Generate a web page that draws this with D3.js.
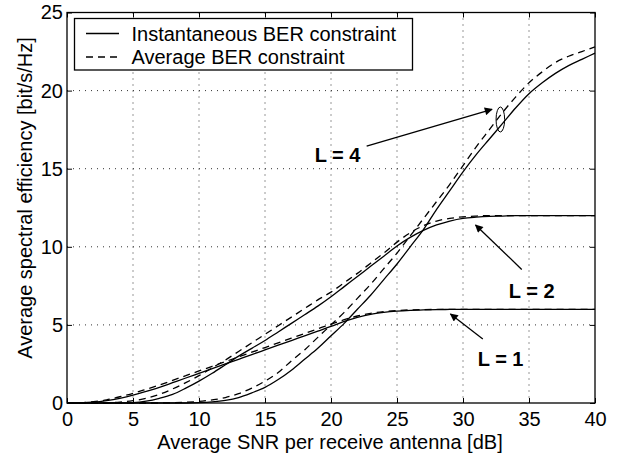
<!DOCTYPE html>
<html>
<head>
<meta charset="utf-8">
<script src="https://cdn.jsdelivr.net/npm/d3@7"></script>
<style>
  body { margin: 0; background: #fff; }
  svg { display: block; font-family: "Liberation Sans", Arial, sans-serif; }
</style>
</head>
<body>
<div id="chart"></div>
<script>
// values, SNR 0..40 dB in 1 dB steps
const snr = d3.range(0, 41);
const L1_inst = [0, 0.01, 0.05, 0.15, 0.3, 0.5, 0.75, 1.0, 1.3, 1.6, 1.9, 2.2, 2.5, 2.8, 3.1, 3.4, 3.7, 4.0, 4.3, 4.6, 4.9,
  5.22, 5.48, 5.68, 5.8, 5.88, 5.93, 5.96, 5.98, 5.99, 6, 6, 6, 6, 6, 6, 6, 6, 6, 6, 6];
const L1_avg = [0, 0.02, 0.08, 0.2, 0.4, 0.62, 0.88, 1.15, 1.45, 1.75, 2.05, 2.35, 2.65, 2.95, 3.25, 3.55, 3.85, 4.15, 4.45, 4.75, 5.05,
  5.33, 5.57, 5.74, 5.85, 5.92, 5.96, 5.98, 5.99, 6, 6, 6, 6, 6, 6, 6, 6, 6, 6, 6, 6];
const L2_inst = [0, 0, 0, 0, 0.01, 0.03, 0.12, 0.3, 0.55, 0.95, 1.4, 1.9, 2.45, 3.0, 3.5, 4.0, 4.55, 5.1, 5.65, 6.2, 6.8,
  7.45, 8.1, 8.75, 9.4, 10.05, 10.6, 11.05, 11.4, 11.65, 11.82, 11.9, 11.95, 11.97, 11.99, 12, 12, 12, 12, 12, 12];
const L2_avg = [0, 0, 0, 0.02, 0.06, 0.15, 0.3, 0.55, 0.9, 1.3, 1.75, 2.25, 2.75, 3.3, 3.85, 4.4, 4.95, 5.5, 6.05, 6.6, 7.1,
  7.7, 8.3, 8.95, 9.6, 10.3, 10.9, 11.35, 11.65, 11.82, 11.92, 11.97, 12, 12, 12, 12, 12, 12, 12, 12, 12];
const L4_inst = [0, 0, 0, 0, 0, 0, 0, 0, 0, 0, 0.02, 0.07, 0.17, 0.35, 0.65, 1.0, 1.5, 2.1, 2.8, 3.5, 4.3,
  5.1, 6.0, 6.9, 7.9, 8.9, 10.0, 11.1, 12.4, 13.6, 14.8, 15.9, 16.9, 17.9, 18.9, 19.8, 20.5, 21.1, 21.6, 22.0, 22.4];
const L4_avg = [0, 0, 0, 0, 0, 0, 0, 0, 0.02, 0.05, 0.1, 0.2, 0.35, 0.6, 0.95, 1.4, 1.95, 2.7, 3.4, 4.2, 5.0,
  5.8, 6.7, 7.6, 8.6, 9.6, 10.7, 11.8, 12.9, 14.0, 15.2, 16.4, 17.5, 18.6, 19.6, 20.5, 21.2, 21.8, 22.2, 22.5, 22.8];

const xTicks = [0, 5, 10, 15, 20, 25, 30, 35, 40];
const yTicks = [0, 5, 10, 15, 20, 25];
const legendLabels = ['Instantaneous BER constraint', 'Average BER constraint'];

// annotations in data units: label position, arrow tail, arrow head
const notes = [
  {text: 'L = 4', tx: 20.5, ty: 15.45, x1: 22.7, y1: 16.45, x2: 32.2, y2: 18.8},
  {text: 'L = 2', tx: 35.2, ty: 6.75, x1: 34.45, y1: 8.55, x2: 30.95, y2: 11.4},
  {text: 'L = 1', tx: 32.85, ty: 2.4, x1: 31.5, y1: 4.1, x2: 29.05, y2: 5.7}
];
const ellipse = {x: 32.83, y: 18.15};

const width = 618, height = 456;
const margin = {top: 12.5, right: 23, bottom: 53, left: 67};

const svg = d3.select('#chart').append('svg')
  .attr('width', width).attr('height', height);

const xScale = d3.scaleLinear().domain([0, 40]).range([margin.left, width - margin.right]);
const yScale = d3.scaleLinear().domain([0, 25]).range([height - margin.bottom, margin.top]);

svg.append('defs').append('marker')
  .attr('id', 'head').attr('viewBox', '0 0 10 10')
  .attr('refX', 9).attr('refY', 5)
  .attr('markerWidth', 11).attr('markerHeight', 8)
  .attr('markerUnits', 'userSpaceOnUse')
  .attr('orient', 'auto')
  .append('path').attr('d', 'M0,0 L10,5 L0,10 z').attr('fill', '#000');

// dotted grid
const grid = svg.append('g').attr('stroke', '#333').attr('stroke-width', 1).attr('stroke-dasharray', '1,5');
grid.selectAll('.gx').data(xTicks.slice(1, -1)).enter().append('line')
  .attr('x1', d => xScale(d)).attr('x2', d => xScale(d))
  .attr('y1', yScale(25)).attr('y2', yScale(0));
grid.selectAll('.gy').data(yTicks.slice(1, -1)).enter().append('line')
  .attr('y1', d => yScale(d)).attr('y2', d => yScale(d))
  .attr('x1', xScale(0)).attr('x2', xScale(40));

// curves
const line = d3.line().x((d, i) => xScale(snr[i])).y(d => yScale(d)).curve(d3.curveMonotoneX);
const series = [
  {v: L1_inst, dash: null}, {v: L1_avg, dash: '7,5'},
  {v: L2_inst, dash: null}, {v: L2_avg, dash: '7,5'},
  {v: L4_inst, dash: null}, {v: L4_avg, dash: '7,5'}
];
svg.append('g').selectAll('path').data(series).enter().append('path')
  .attr('d', d => line(d.v))
  .attr('fill', 'none').attr('stroke', '#000').attr('stroke-width', 1.3)
  .attr('stroke-dasharray', d => d.dash);

// axes with inward ticks on all four sides
const tick = 5;
const xAxisG = svg.append('g').attr('transform', `translate(0,${yScale(0)})`)
  .call(d3.axisBottom(xScale).tickValues(xTicks).tickSizeInner(-tick).tickSizeOuter(0).tickPadding(9));
const xTopG = svg.append('g').attr('transform', `translate(0,${yScale(25)})`)
  .call(d3.axisTop(xScale).tickValues(xTicks).tickSizeInner(-tick).tickSizeOuter(0).tickFormat(''));
const yAxisG = svg.append('g').attr('transform', `translate(${xScale(0)},0)`)
  .call(d3.axisLeft(yScale).tickValues(yTicks).tickSizeInner(-tick).tickSizeOuter(0).tickPadding(4));
const yRightG = svg.append('g').attr('transform', `translate(${xScale(40)},0)`)
  .call(d3.axisRight(yScale).tickValues(yTicks).tickSizeInner(-tick).tickSizeOuter(0).tickFormat(''));
[xAxisG, xTopG, yAxisG, yRightG].forEach(g => {
  g.select('.domain').remove();
  g.selectAll('.tick line').attr('stroke', '#000');
  g.selectAll('.tick text').attr('fill', '#000').attr('font-size', 20)
    .attr('font-family', '"Liberation Sans", Arial, sans-serif');
});

svg.append('rect')
  .attr('x', xScale(0)).attr('y', yScale(25))
  .attr('width', xScale(40) - xScale(0)).attr('height', yScale(0) - yScale(25))
  .attr('fill', 'none').attr('stroke', '#000').attr('stroke-width', 1.3);

// axis titles
svg.append('text')
  .attr('x', 330).attr('y', 449)
  .attr('text-anchor', 'middle').attr('font-size', 20)
  .text('Average SNR per receive antenna [dB]');
svg.append('text')
  .attr('transform', 'translate(32,198) rotate(-90)')
  .attr('text-anchor', 'middle').attr('font-size', 20)
  .text('Average spectral efficiency [bit/s/Hz]');

// legend
const legend = svg.append('g');
legend.append('rect')
  .attr('x', 74.5).attr('y', 18.5).attr('width', 338).attr('height', 51.5)
  .attr('fill', '#fff').attr('stroke', '#000').attr('stroke-width', 1.3);
legendLabels.forEach((label, i) => {
  const cy = 33.5 + i * 23.5;
  legend.append('line')
    .attr('x1', 86).attr('x2', 119).attr('y1', cy).attr('y2', cy)
    .attr('stroke', '#000').attr('stroke-width', 1.3)
    .attr('stroke-dasharray', i === 1 ? '7,5' : null);
  legend.append('text')
    .attr('x', 131.5).attr('y', cy + 7)
    .attr('font-size', 20).text(label);
});

// annotations
const ann = svg.append('g');
ann.selectAll('line').data(notes).enter().append('line')
  .attr('x1', d => xScale(d.x1)).attr('y1', d => yScale(d.y1))
  .attr('x2', d => xScale(d.x2)).attr('y2', d => yScale(d.y2))
  .attr('stroke', '#000').attr('stroke-width', 1.3)
  .attr('marker-end', 'url(#head)');
ann.selectAll('text').data(notes).enter().append('text')
  .attr('x', d => xScale(d.tx)).attr('y', d => yScale(d.ty))
  .attr('text-anchor', 'middle').attr('font-size', 20).attr('font-weight', 'bold')
  .text(d => d.text);
ann.append('ellipse')
  .attr('cx', xScale(ellipse.x)).attr('cy', yScale(ellipse.y))
  .attr('rx', 4.3).attr('ry', 12.5)
  .attr('fill', 'none').attr('stroke', '#000').attr('stroke-width', 1);
</script>
</body>
</html>
